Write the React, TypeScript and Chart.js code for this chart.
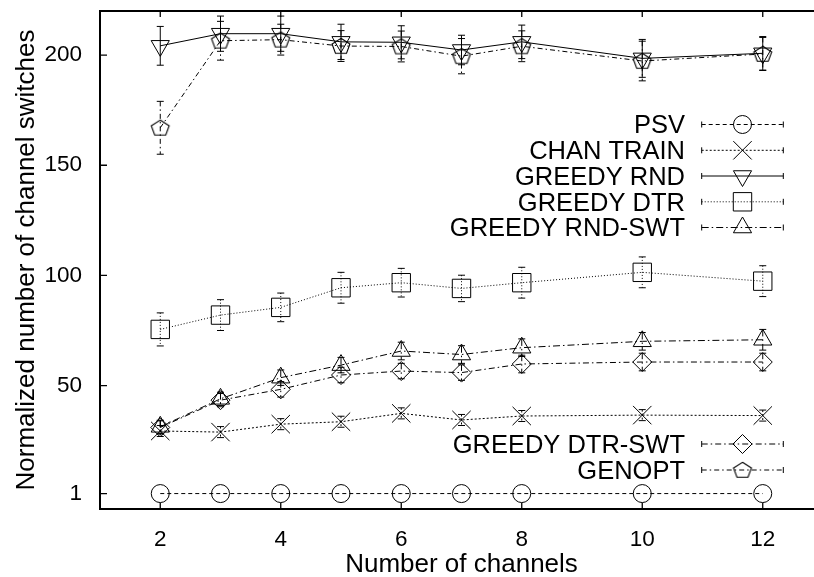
import React, { useEffect, useRef } from "react";
import { Chart, registerables } from "chart.js";

Chart.register(...registerables);

// ---------- data ----------
const channels = [2, 3, 4, 5, 6, 7, 8, 10, 12];
const xTickValues = [2, 4, 6, 8, 10, 12];
const yTickValues = [1, 50, 100, 150, 200];

const psv = [1, 1, 1, 1, 1, 1, 1, 1, 1];
const psvErr = [0, 0, 0, 0, 0, 0, 0, 0, 0];

const chanTrain = [29.4, 28.9, 32.5, 33.6, 37.4, 34.4, 36.2, 36.6, 36.4];
const chanTrainErr = [2.5, 2.5, 2.5, 2.5, 2.5, 2.5, 2.5, 2.5, 2.5];

const greedyRnd = [204.2, 209.7, 209.7, 206.0, 205.8, 202.3, 206.0, 198.5, 200.8];
const greedyRndErr = [8.8, 8.0, 8.0, 8.0, 7.5, 6.7, 7.6, 8.6, 7.6];

const greedyDtr = [75.5, 82.0, 85.5, 94.4, 96.7, 94.1, 96.7, 101.4, 97.4];
const greedyDtrErr = [7.5, 7.0, 6.5, 7.0, 6.5, 6.0, 7.0, 7.0, 7.0];

const greedyRndSwt = [31.3, 44.0, 53.6, 59.3, 65.7, 64.1, 67.2, 70.1, 70.8];
const greedyRndSwtErr = [3.0, 3.0, 3.5, 3.5, 4.0, 4.0, 4.0, 4.0, 4.7];

const greedyDtrSwt = [31.0, 43.4, 48.3, 54.8, 56.6, 55.9, 59.8, 60.7, 60.7];
const greedyDtrSwtErr = [3.0, 3.0, 3.5, 3.5, 3.5, 3.5, 4.0, 4.0, 4.0];

const genopt = [167.0, 206.5, 207.0, 204.1, 203.9, 199.5, 204.0, 197.3, 200.5];
const genoptErr = [12.0, 8.8, 7.0, 7.0, 7.0, 8.0, 7.0, 9.0, 7.5];

const seriesLabels = [
  "PSV",
  "CHAN TRAIN",
  "GREEDY RND",
  "GREEDY DTR",
  "GREEDY RND-SWT",
  "GREEDY DTR-SWT",
  "GENOPT",
];

const xTitle = "Number of channels";
const yTitle = "Normalized number of channel switches";

// ---------- style ----------
const FONT = "'Liberation Sans', Arial, Helvetica, sans-serif";
const CANVAS_W = 830;
const CANVAS_H = 577;

function makePentagon(): HTMLCanvasElement {
  const c = document.createElement("canvas");
  c.width = 24;
  c.height = 22;
  const ctx = c.getContext("2d")!;
  ctx.strokeStyle = "#000";
  ctx.lineWidth = 1.1;
  const cx = 12;
  const cy = 11.6;
  const rx = 9.4;
  const ry = 8.3;
  ctx.beginPath();
  for (let i = 0; i < 5; i++) {
    const a = -Math.PI / 2 + (i * 2 * Math.PI) / 5;
    const px = cx + rx * Math.cos(a);
    const py = cy + ry * Math.sin(a);
    if (i === 0) ctx.moveTo(px, py);
    else ctx.lineTo(px, py);
  }
  ctx.closePath();
  ctx.stroke();
  return c;
}

function drawMarker(ctx: CanvasRenderingContext2D, style: any, x: number, y: number, r: number, rot: number) {
  if (typeof style !== "string") {
    ctx.drawImage(style, x - style.width / 2, y - style.height / 2);
    return;
  }
  ctx.beginPath();
  if (style === "circle") {
    ctx.arc(x, y, r, 0, Math.PI * 2);
  } else if (style === "crossRot") {
    const d = r * Math.SQRT1_2;
    ctx.moveTo(x - d, y - d);
    ctx.lineTo(x + d, y + d);
    ctx.moveTo(x - d, y + d);
    ctx.lineTo(x + d, y - d);
  } else if (style === "triangle") {
    let rad = (rot * Math.PI) / 180;
    ctx.moveTo(x + Math.sin(rad) * r, y - Math.cos(rad) * r);
    rad += (2 * Math.PI) / 3;
    ctx.lineTo(x + Math.sin(rad) * r, y - Math.cos(rad) * r);
    rad += (2 * Math.PI) / 3;
    ctx.lineTo(x + Math.sin(rad) * r, y - Math.cos(rad) * r);
    ctx.closePath();
  } else if (style === "rect") {
    const s = r * Math.SQRT1_2;
    ctx.rect(x - s, y - s, 2 * s, 2 * s);
  } else if (style === "rectRot") {
    ctx.moveTo(x - r, y);
    ctx.lineTo(x, y - r);
    ctx.lineTo(x + r, y);
    ctx.lineTo(x, y + r);
    ctx.closePath();
  }
  ctx.stroke();
}

const errorBarPlugin = {
  id: "errorBars",
  afterDatasetsDraw(chart: any) {
    const ctx = chart.ctx as CanvasRenderingContext2D;
    const ys = chart.scales.y;
    chart.data.datasets.forEach((ds: any, i: number) => {
      const errs: number[] = ds.errors;
      if (!errs) return;
      const meta = chart.getDatasetMeta(i);
      ctx.save();
      ctx.strokeStyle = "#000";
      ctx.lineWidth = 1;
      meta.data.forEach((pt: any, j: number) => {
        const e = errs[j];
        if (!e) return;
        const v = ds.data[j].y;
        const y1 = ys.getPixelForValue(v + e);
        const y2 = ys.getPixelForValue(v - e);
        ctx.setLineDash(ds.borderDash || []);
        ctx.beginPath();
        ctx.moveTo(pt.x, y1);
        ctx.lineTo(pt.x, y2);
        ctx.stroke();
        ctx.setLineDash([]);
        ctx.beginPath();
        ctx.moveTo(pt.x - 3.5, y1);
        ctx.lineTo(pt.x + 3.5, y1);
        ctx.moveTo(pt.x - 3.5, y2);
        ctx.lineTo(pt.x + 3.5, y2);
        ctx.stroke();
      });
      ctx.restore();
    });
  },
};

const framePlugin = {
  id: "frame",
  afterDraw(chart: any) {
    const ctx = chart.ctx as CanvasRenderingContext2D;
    const a = chart.chartArea;
    const xs = chart.scales.x;
    const ys = chart.scales.y;
    ctx.save();
    ctx.setLineDash([]);
    ctx.strokeStyle = "#000";
    ctx.lineWidth = 2;
    ctx.strokeRect(a.left, a.top, a.right - a.left, a.bottom - a.top);
    ctx.lineWidth = 1.3;
    ctx.beginPath();
    xTickValues.forEach((v) => {
      const px = xs.getPixelForValue(v);
      ctx.moveTo(px, a.bottom);
      ctx.lineTo(px, a.bottom - 6);
      ctx.moveTo(px, a.top);
      ctx.lineTo(px, a.top + 6);
    });
    yTickValues.forEach((v) => {
      const py = ys.getPixelForValue(v);
      ctx.moveTo(a.left, py);
      ctx.lineTo(a.left + 7, py);
      ctx.moveTo(a.right, py);
      ctx.lineTo(a.right - 7, py);
    });
    ctx.stroke();

    // axis titles
    ctx.fillStyle = "#000";
    ctx.font = `26px ${FONT}`;
    ctx.textAlign = "center";
    ctx.textBaseline = "alphabetic";
    ctx.fillText(xTitle, (a.left + a.right) / 2, 571.5);
    ctx.save();
    ctx.translate(34, (a.top + a.bottom) / 2);
    ctx.rotate(-Math.PI / 2);
    ctx.fillText(yTitle, 0, 0);
    ctx.restore();

    // legend (gnuplot style)
    const textRight = 685;
    const lineL = 701.7;
    const lineR = 783.3;
    const markX = 742.5;
    ctx.font = `25.5px ${FONT}`;
    ctx.textAlign = "right";
    chart.data.datasets.forEach((ds: any) => {
      const ry = ds.legendY as number;
      ctx.fillStyle = "#000";
      ctx.fillText(ds.label, textRight, ry + 8.8);
      ctx.lineWidth = 1;
      ctx.setLineDash(ds.borderDash || []);
      ctx.beginPath();
      ctx.moveTo(lineL, ry);
      ctx.lineTo(lineR, ry);
      ctx.stroke();
      ctx.setLineDash([]);
      ctx.beginPath();
      ctx.moveTo(lineL, ry - 3);
      ctx.lineTo(lineL, ry + 3);
      ctx.moveTo(lineR, ry - 3);
      ctx.lineTo(lineR, ry + 3);
      ctx.stroke();
      drawMarker(ctx, ds.pointStyle, markX, ry, ds.pointRadius, ds.pointRotation || 0);
    });
    ctx.restore();
  },
};

function toXY(values: number[]) {
  return values.map((v, i) => ({ x: channels[i], y: v }));
}

function zeroPadding(s: any) {
  s.paddingTop = 0;
  s.paddingBottom = 0;
  s.paddingLeft = 0;
  s.paddingRight = 0;
}

export default function App() {
  const ref = useRef<HTMLCanvasElement | null>(null);

  useEffect(() => {
    if (!ref.current) return;
    const pentagon = makePentagon();
    const common = {
      borderColor: "#000",
      borderWidth: 1,
      backgroundColor: "rgba(0,0,0,0)",
      pointBorderColor: "#000",
      pointBackgroundColor: "rgba(0,0,0,0)",
      pointBorderWidth: 1,
      pointHoverRadius: 0,
      fill: false,
      tension: 0,
    };
    const datasets: any[] = [
      { ...common, label: seriesLabels[0], data: toXY(psv), errors: psvErr, borderDash: [4, 3], pointStyle: "circle", pointRadius: 9, legendY: 124.5 },
      { ...common, label: seriesLabels[1], data: toXY(chanTrain), errors: chanTrainErr, borderDash: [2, 2], pointStyle: "crossRot", pointRadius: 13, legendY: 150.3 },
      { ...common, label: seriesLabels[2], data: toXY(greedyRnd), errors: greedyRndErr, borderDash: [], pointStyle: "triangle", pointRotation: 180, pointRadius: 10.5, legendY: 176 },
      { ...common, label: seriesLabels[3], data: toXY(greedyDtr), errors: greedyDtrErr, borderDash: [1, 2], pointStyle: "rect", pointRadius: 13, legendY: 201.8 },
      { ...common, label: seriesLabels[4], data: toXY(greedyRndSwt), errors: greedyRndSwtErr, borderDash: [7, 3, 1.5, 3], pointStyle: "triangle", pointRadius: 10.5, legendY: 227.5 },
      { ...common, label: seriesLabels[5], data: toXY(greedyDtrSwt), errors: greedyDtrSwtErr, borderDash: [6, 3, 1.5, 3], pointStyle: "rectRot", pointRadius: 9.5, legendY: 444 },
      { ...common, label: seriesLabels[6], data: toXY(genopt), errors: genoptErr, borderDash: [5, 3, 1.5, 3], pointStyle: pentagon, pointRadius: 9.5, legendY: 470 },
    ];

    const chart = new Chart(ref.current, {
      type: "line",
      data: { datasets },
      options: {
        responsive: false,
        devicePixelRatio: 1,
        animation: false,
        events: [],
        layout: { autoPadding: false, padding: { left: 0, top: 11, right: 7, bottom: 0 } },
        plugins: { legend: { display: false }, tooltip: { enabled: false } },
        scales: {
          x: {
            type: "linear",
            min: 1,
            max: 13,
            afterBuildTicks: (s: any) => {
              s.ticks = xTickValues.map((v) => ({ value: v }));
            },
            afterFit: (s: any) => {
              s.height = 68;
              zeroPadding(s);
            },
            ticks: {
              color: "#000",
              font: { family: FONT, size: 22.5 },
              padding: 17,
              autoSkip: false,
              maxRotation: 0,
              callback: (v: any) => String(v),
            },
            grid: { display: false, drawTicks: false },
            border: { display: false },
          },
          y: {
            type: "linear",
            min: -6,
            max: 220,
            afterBuildTicks: (s: any) => {
              s.ticks = yTickValues.map((v) => ({ value: v }));
            },
            afterFit: (s: any) => {
              s.width = 100;
              zeroPadding(s);
            },
            ticks: {
              color: "#000",
              font: { family: FONT, size: 22.5 },
              padding: 18,
              autoSkip: false,
              callback: (v: any) => String(v),
            },
            grid: { display: false, drawTicks: false },
            border: { display: false },
          },
        },
      } as any,
      plugins: [errorBarPlugin, framePlugin],
    });
    return () => chart.destroy();
  }, []);

  return (
    <div
      style={{
        position: "fixed",
        left: 0,
        top: 0,
        width: 814,
        height: 577,
        overflow: "hidden",
        background: "#fff",
      }}
    >
      <canvas
        ref={ref}
        width={CANVAS_W}
        height={CANVAS_H}
        style={{ display: "block", width: CANVAS_W, height: CANVAS_H }}
      />
    </div>
  );
}
